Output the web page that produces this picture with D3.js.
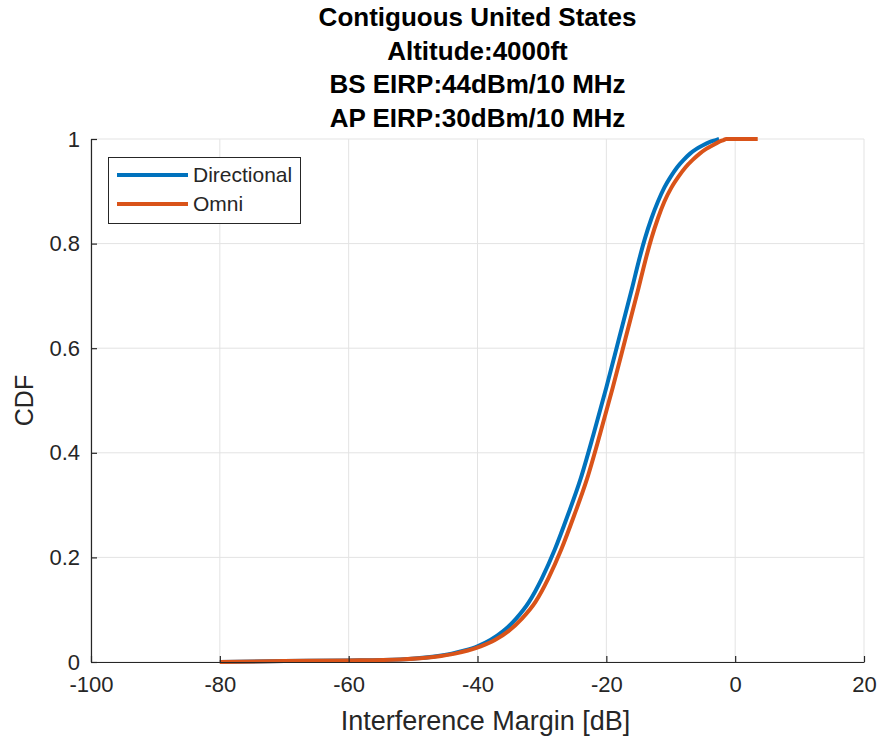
<!DOCTYPE html>
<html lang="en">
<head>
<meta charset="UTF-8">
<title>CDF - Interference Margin</title>
<script src="https://d3js.org/d3.v7.min.js"></script>
<style>
    body { margin: 0; background: #fff; }
    svg text { font-family: "Liberation Sans", Arial, Helvetica, sans-serif; fill: #262626; }
    .title { font-weight: bold; font-size: 26px; fill: #000; }
    .tick text { font-size: 22px; }
</style>
</head>
<body>
<svg id="chart" width="881" height="740"></svg>
<script>
    // ---- data ----
    var titleLines = ["Contiguous United States", "Altitude:4000ft", "BS EIRP:44dBm/10 MHz", "AP EIRP:30dBm/10 MHz"];
    var seriesNames = ["Directional", "Omni"];
    var xTicks = [-100, -80, -60, -40, -20, 0, 20];
    var yTicks = [0, 0.2, 0.4, 0.6, 0.8, 1];

    var dirX = [-80, -70, -60, -52, -47, -44, -42, -40, -38, -36, -34, -32, -30, -28, -26, -24, -22, -20, -18, -16, -15, -14, -13, -12, -11, -10, -9, -8, -7, -6, -5, -4, -3, -2.5];
    var dirY = [0, 0.002, 0.003, 0.005, 0.01, 0.016, 0.022, 0.03, 0.042, 0.059, 0.083, 0.115, 0.16, 0.215, 0.28, 0.35, 0.435, 0.525, 0.62, 0.715, 0.765, 0.81, 0.848, 0.88, 0.907, 0.928, 0.946, 0.96, 0.972, 0.981, 0.988, 0.994, 0.998, 1];

    var omniX = [-80, -70, -60, -52, -46.5, -43.5, -41.5, -39.5, -37.3, -35.2, -33.1, -31, -29, -27, -25, -23, -21, -19, -17, -15, -14, -13, -12, -11, -9.9, -8.8, -7.7, -6.6, -5.5, -4.5, -3.5, -2.6, -1.8, -1.4, 3.5];
    var omniY = [0, 0.002, 0.003, 0.005, 0.01, 0.016, 0.022, 0.03, 0.042, 0.059, 0.083, 0.115, 0.16, 0.215, 0.28, 0.35, 0.435, 0.525, 0.62, 0.715, 0.765, 0.81, 0.848, 0.88, 0.907, 0.928, 0.946, 0.96, 0.972, 0.981, 0.988, 0.994, 0.998, 1, 1];

    var colors = ["#0072BD", "#D95319"];

    // ---- layout ----
    var svg = d3.select("#chart");
    var mLeft = 91, mRight = 864, mTop = 139, mBottom = 662;

    var x = d3.scaleLinear().domain([-100, 20]).range([mLeft, mRight]);
    var y = d3.scaleLinear().domain([0, 1]).range([mBottom, mTop]);

    // grid
    svg.append("g").selectAll("line").data(xTicks).enter().append("line")
        .attr("x1", function(d) { return x(d); }).attr("x2", function(d) { return x(d); })
        .attr("y1", mTop).attr("y2", mBottom)
        .attr("stroke", "#e3e3e3").attr("stroke-width", 1);
    svg.append("g").selectAll("line").data(yTicks).enter().append("line")
        .attr("x1", mLeft).attr("x2", mRight)
        .attr("y1", function(d) { return y(d); }).attr("y2", function(d) { return y(d); })
        .attr("stroke", "#e3e3e3").attr("stroke-width", 1);

    // lines
    var series = [
        dirX.map(function(v, i) { return [v, dirY[i]]; }),
        omniX.map(function(v, i) { return [v, omniY[i]]; })
    ];
    var line = d3.line()
        .x(function(d) { return x(d[0]); })
        .y(function(d) { return y(d[1]); })
        .curve(d3.curveMonotoneX);

    svg.append("g").selectAll("path").data(series).enter().append("path")
        .attr("d", line)
        .attr("fill", "none")
        .attr("stroke", function(d, i) { return colors[i]; })
        .attr("stroke-width", 4);

    // axes (ticks point inward, like matlab)
    var xAxis = svg.append("g").attr("transform", "translate(0," + mBottom + ")")
        .call(d3.axisBottom(x).tickValues(xTicks).tickSizeInner(-6).tickSizeOuter(0).tickPadding(14)
            .tickFormat(function(d) { return String(d); }));
    var yAxis = svg.append("g").attr("transform", "translate(" + mLeft + ",0)")
        .call(d3.axisLeft(y).tickValues(yTicks).tickSizeInner(-6).tickSizeOuter(0).tickPadding(11)
            .tickFormat(function(d) { return String(d); }));
    [xAxis, yAxis].forEach(function(a) {
        a.select(".domain").attr("stroke", "#262626").attr("stroke-width", 1.2);
        a.selectAll(".tick line").attr("stroke", "#262626").attr("stroke-width", 1.2);
        a.selectAll(".tick text").attr("fill", "#262626");
    });

    // axis labels
    svg.append("text")
        .attr("x", x(-40) + 8).attr("y", 730)
        .attr("text-anchor", "middle")
        .style("font-size", "27px")
        .text("Interference Margin [dB]");
    svg.append("text")
        .attr("transform", "translate(33," + y(0.5) + ") rotate(-90)")
        .attr("text-anchor", "middle")
        .style("font-size", "25px")
        .text("CDF");

    // title
    svg.append("g").selectAll("text").data(titleLines).enter().append("text")
        .attr("class", "title")
        .attr("x", (mLeft + mRight) / 2)
        .attr("y", function(d, i) { return 26 + i * 33.5; })
        .attr("text-anchor", "middle")
        .text(function(d) { return d; });

    // legend
    var lg = svg.append("g");
    lg.append("rect")
        .attr("x", 108.5).attr("y", 157.5).attr("width", 192).attr("height", 66)
        .attr("fill", "#fff").attr("stroke", "#262626").attr("stroke-width", 1);
    seriesNames.forEach(function(name, i) {
        var yy = 175 + i * 29;
        lg.append("line")
            .attr("x1", 117).attr("x2", 188).attr("y1", yy).attr("y2", yy)
            .attr("stroke", colors[i]).attr("stroke-width", 4);
        lg.append("text")
            .attr("x", 193).attr("y", yy).attr("dy", "0.35em")
            .style("font-size", "21px")
            .text(name);
    });
</script>
</body>
</html>
